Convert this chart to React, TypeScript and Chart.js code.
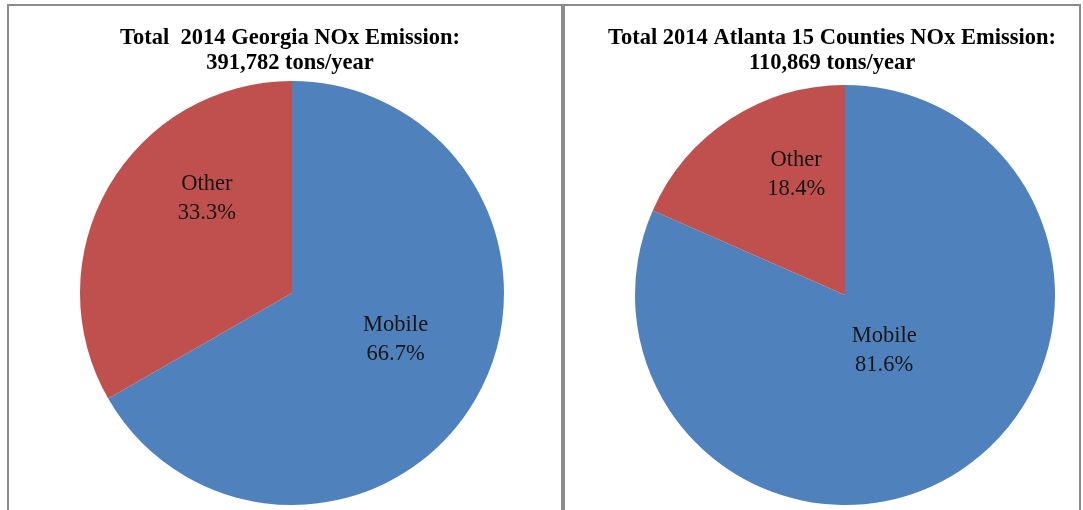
import React, { useEffect, useRef } from "react";
import { Chart, registerables } from "chart.js";

Chart.register(...registerables);

const categories = ["Mobile", "Other"];
const georgiaValues = [66.7, 33.3];
const atlantaValues = [81.6, 18.4];
const georgiaTitle = ["Total  2014 Georgia NOx Emission:", "391,782 tons/year"];
const atlantaTitle = ["Total 2014 Atlanta 15 Counties NOx Emission:", "110,869 tons/year"];
const sliceColors = ["#4F81BD", "#C0504D"];

const overlayPlugin = {
  id: "overlay",
  afterDatasetsDraw(chart: any, _args: any, opts: any) {
    const ctx = chart.ctx;
    const meta = chart.getDatasetMeta(0);
    const ds = chart.data.datasets[0];
    ctx.save();
    ctx.textAlign = "center";
    ctx.textBaseline = "middle";
    ctx.fillStyle = "#151515";
    ctx.font = "22.5px 'Liberation Serif', 'Times New Roman', serif";
    meta.data.forEach((arc: any, i: number) => {
      const p = opts.placement[i];
      const a = ((p.angle - 90) * Math.PI) / 180;
      const r = arc.outerRadius * p.r;
      const x = arc.x + Math.cos(a) * r;
      const y = arc.y + Math.sin(a) * r;
      ctx.fillText(String(chart.data.labels[i]), x, y - 14.5);
      ctx.fillText(Number(ds.data[i]).toFixed(1) + "%", x, y + 14.5);
    });
    ctx.fillStyle = "#000";
    ctx.font = "bold 22.5px 'Liberation Serif', 'Times New Roman', serif";
    opts.title.forEach((line: string, i: number) => {
      ctx.fillText(line, opts.titleX, opts.titleY + i * 25);
    });
    ctx.restore();
  },
};

function PieChart(props: {
  values: number[];
  title: string[];
  width: number;
  height: number;
  padding: { left: number; right: number; top: number; bottom: number };
  placement: { angle: number; r: number }[];
  titleX: number;
  style: React.CSSProperties;
}) {
  const ref = useRef<HTMLCanvasElement | null>(null);
  useEffect(() => {
    if (!ref.current) return;
    const chart = new Chart(ref.current, {
      type: "pie",
      data: {
        labels: categories,
        datasets: [
          {
            data: props.values,
            backgroundColor: sliceColors,
            borderWidth: 0,
          },
        ],
      },
      options: {
        animation: false,
        responsive: false,
        maintainAspectRatio: false,
        layout: { padding: props.padding },
        plugins: {
          legend: { display: false },
          tooltip: { enabled: false },
          title: { display: false },
          overlay: {
            placement: props.placement,
            title: props.title,
            titleX: props.titleX,
            titleY: 32,
          },
        } as any,
      },
      plugins: [overlayPlugin],
    });
    return () => chart.destroy();
  }, []);
  return (
    <canvas
      ref={ref}
      width={props.width}
      height={props.height}
      style={{ position: "absolute", width: props.width, height: props.height, ...props.style }}
    />
  );
}

export default function App() {
  const border = "2px solid #8c8c8c";
  return (
    <div
      style={{
        position: "absolute",
        left: 0,
        top: 0,
        width: 1083,
        height: 510,
        overflow: "hidden",
        background: "#fff",
      }}
    >
      <div
        style={{
          position: "absolute",
          left: 7,
          top: 4,
          width: 556,
          height: 530,
          boxSizing: "border-box",
          border,
          borderBottom: "none",
        }}
      />
      <div
        style={{
          position: "absolute",
          left: 563,
          top: 4,
          width: 518,
          height: 530,
          boxSizing: "border-box",
          border,
          borderBottom: "none",
        }}
      />
      <PieChart
        values={georgiaValues}
        title={georgiaTitle}
        width={552}
        height={504}
        padding={{ left: 71, right: 57, top: 75, bottom: 5 }}
        placement={[
          { angle: 114, r: 0.535 },
          { angle: 318, r: 0.6 },
        ]}
        titleX={281}
        style={{ left: 9, top: 6 }}
      />
      <PieChart
        values={atlantaValues}
        title={atlantaTitle}
        width={514}
        height={504}
        padding={{ left: 70, right: 24, top: 78, bottom: 4 }}
        placement={[
          { angle: 145, r: 0.325 },
          { angle: 338, r: 0.62 },
        ]}
        titleX={267}
        style={{ left: 565, top: 6 }}
      />
    </div>
  );
}
